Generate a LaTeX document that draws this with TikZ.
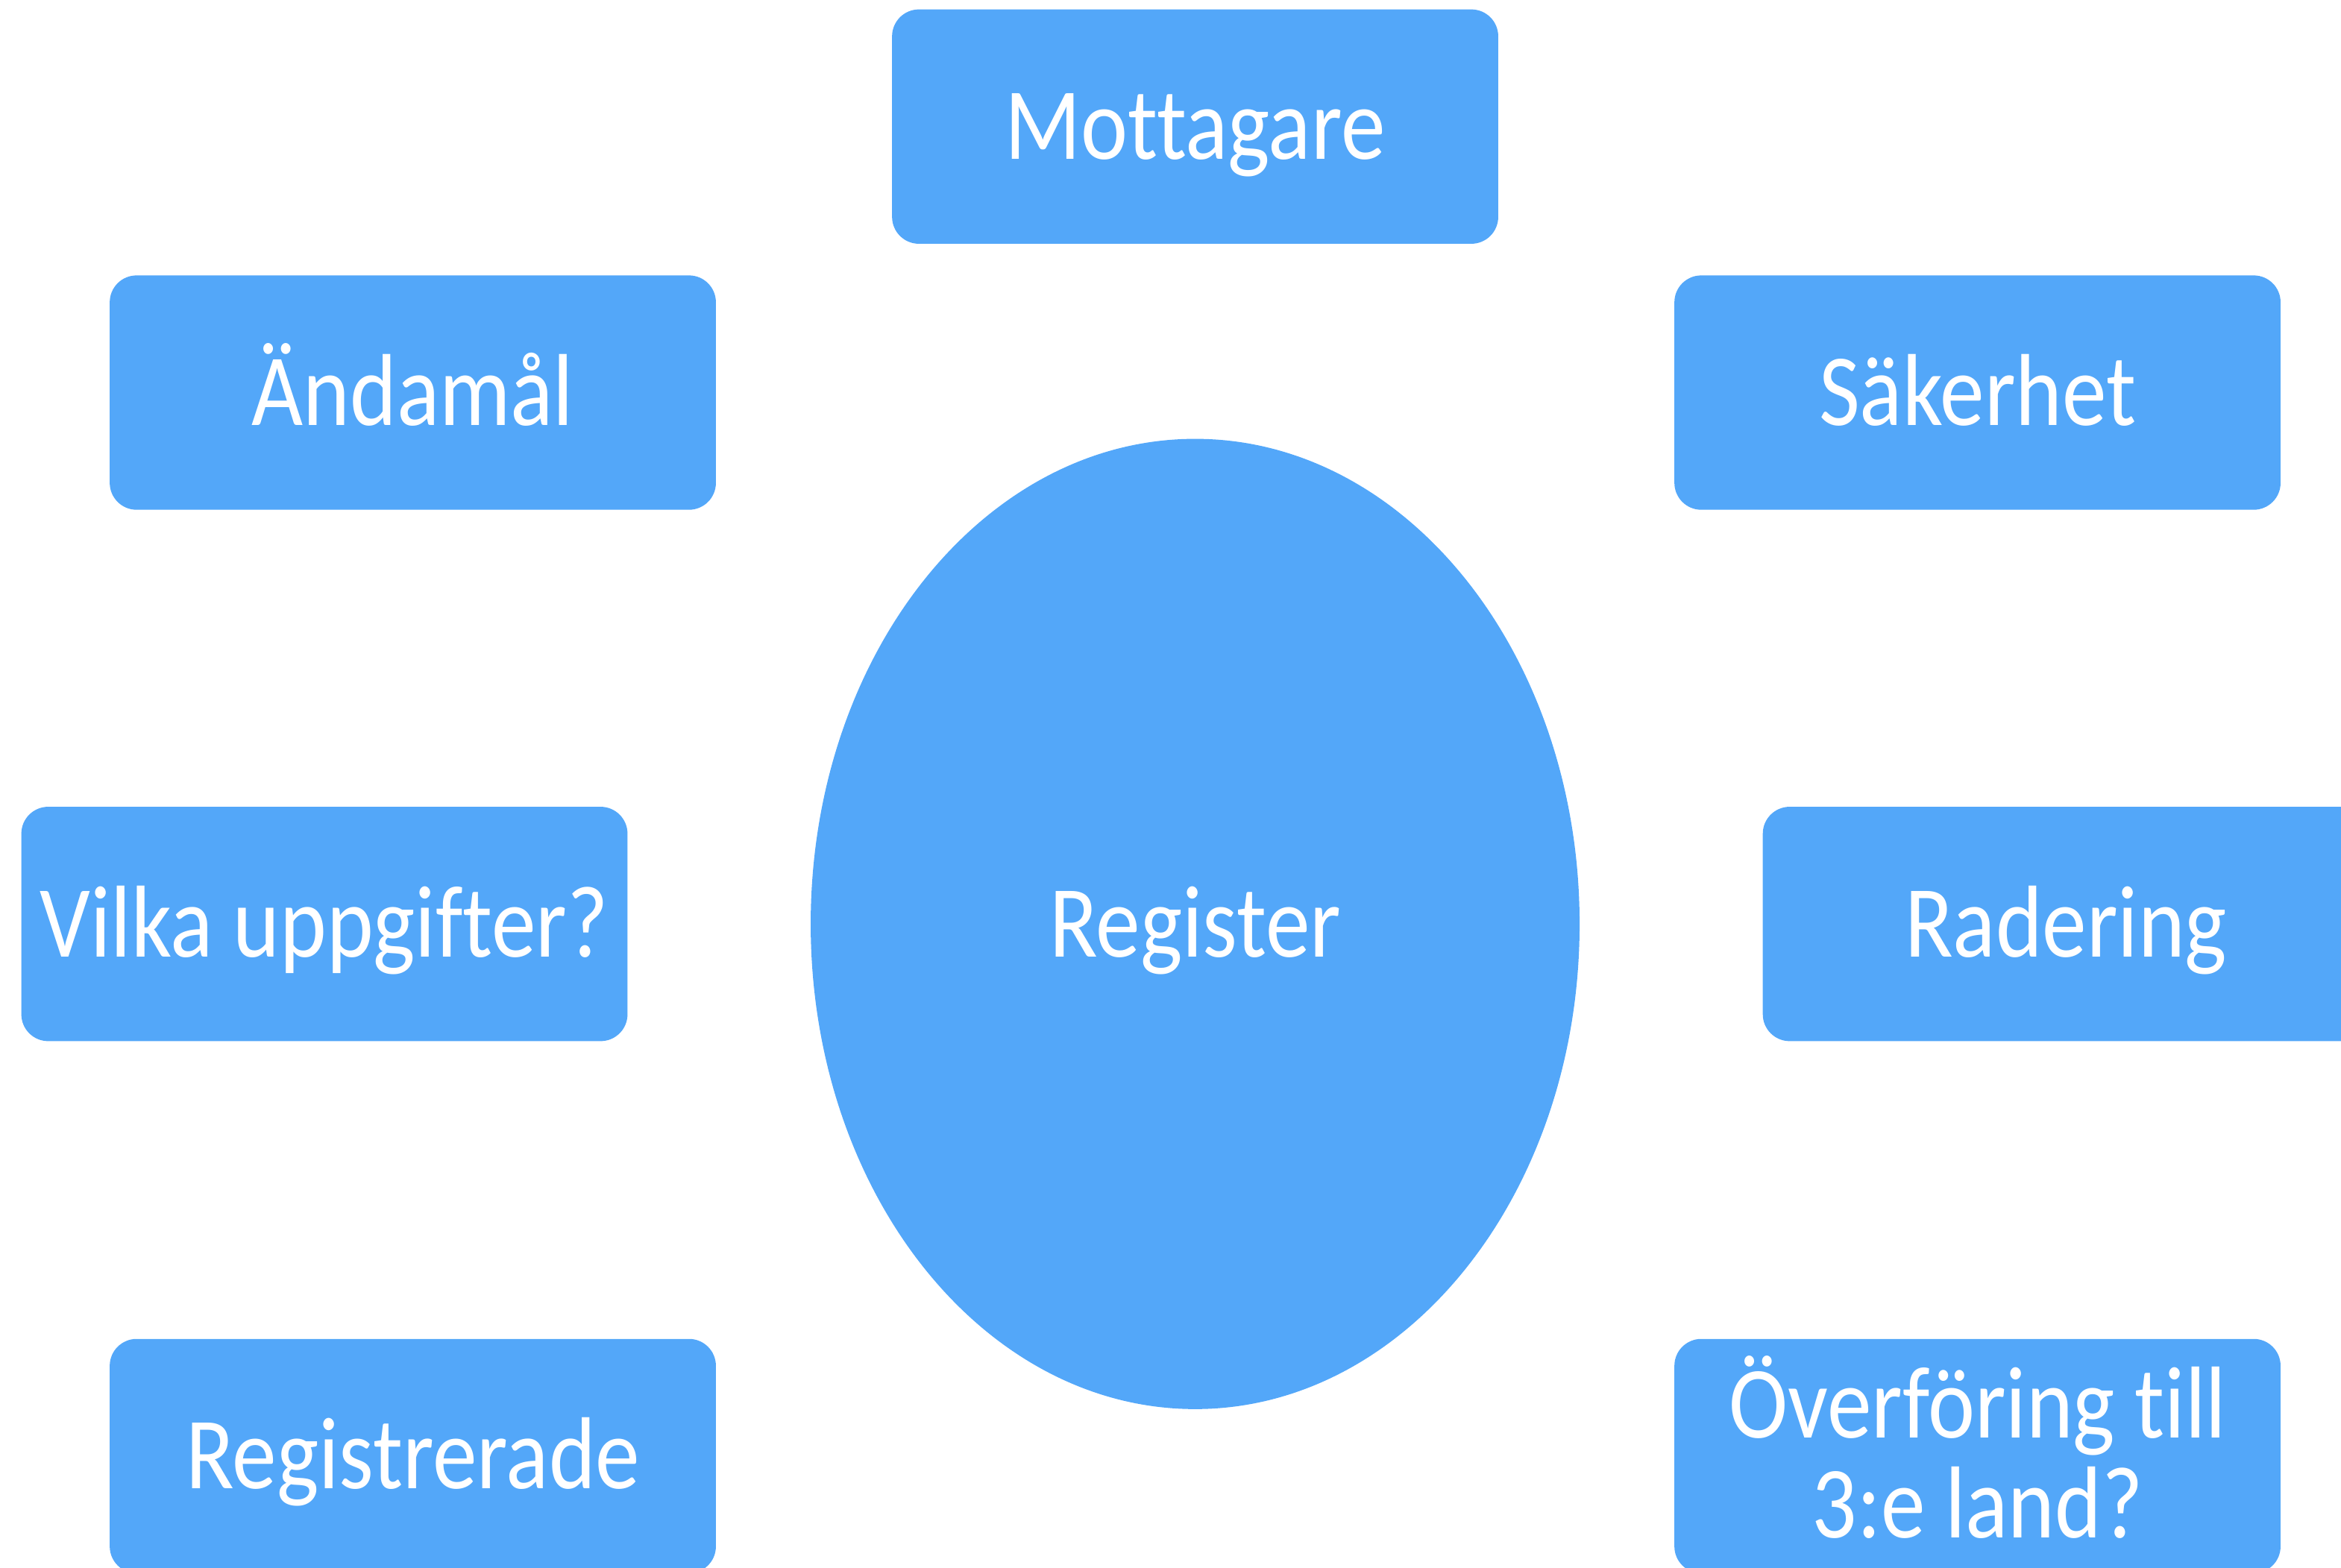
\documentclass[tikz,border=0pt]{standalone}
\usepackage{fontspec}
\setmainfont{Carlito}[Ligatures=NoCommon, FakeStretch=0.87]
\usepackage{xcolor}
\definecolor{myblue}{RGB}{83,167,249}
\usetikzlibrary{positioning}
\usetikzlibrary{shapes.geometric}
\tikzstyle{topic} = [rectangle, rounded corners=0.36cm, minimum width=8.12cm, minimum height=3.14cm, text centered, text height=0.88cm, text depth=0pt, fill=myblue, text=white, font=\fontsize{39}{44}\selectfont]
\tikzstyle{register} = [ellipse, minimum width=10.3cm, minimum height=13cm, inner sep=0pt, text height=0.88cm, text depth=0pt, fill=myblue, text=white, font=\fontsize{39}{44}\selectfont]

\begin{document}
\begin{tikzpicture}[align=center]
	\useasboundingbox (0,0) rectangle (31.36,-21);
	\node (reg)[register] at (16.01,-12.38) {Register};
	\node (mottagare)[topic, above=2.6cm of reg]{Mottagare};
	\node (vilka)[topic, left=2.44cm of reg]{Vilka uppgifter?};
	\node (radering)[topic, right=2.44cm of reg]{Radering};
	\node (andamal)[topic] at (5.53,-5.26) {Ändamål};
	\node (sakerhet)[topic] at (26.49,-5.26) {Säkerhet};
	\node (registrerade)[topic] at (5.53,-19.51) {Registrerade};
	\node (overforing)[topic, text height=2.18cm, font=\fontsize{39}{38}\selectfont] at (26.49,-19.51) {Överföring till\\3:e land?};
\end{tikzpicture}
\end{document}
